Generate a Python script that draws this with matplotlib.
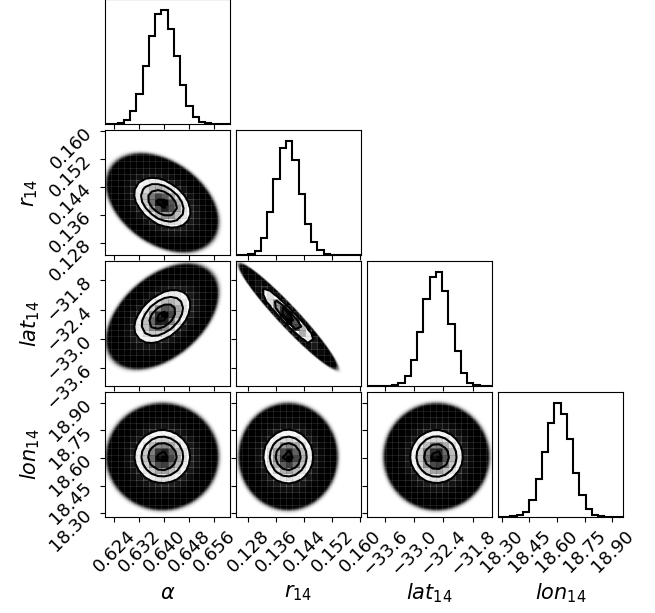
import numpy as np
import matplotlib
matplotlib.use("Agg")
import matplotlib.pyplot as plt
from matplotlib.colors import LinearSegmentedColormap

# ---------------- data ----------------
labels = [r"$\alpha$", r"$r_{14}$", r"$lat_{14}$", r"$lon_{14}$"]
ranges = [(0.6210, 0.6610), (0.1245, 0.1602), (-33.965, -31.405), (18.280, 18.958)]

alpha_counts = [0, 1, 3, 11, 38, 90, 173, 261, 326, 338, 284, 203, 116, 53, 20, 6, 2, 1, 0, 0]
r_counts = [0, 0.5, 3, 12, 50, 127, 227, 317, 338, 283, 182, 92, 40, 15, 3, 0.5, 0, 0, 0, 0]
lat_counts = [0, 0, 0.5, 1, 2, 8, 31, 78, 160, 258, 323, 338, 283, 183, 103, 38, 10, 4, 0.5, 0]
lon_counts = [0, 0.5, 2, 5, 15, 52, 113, 192, 280, 338, 307, 232, 130, 65, 25, 7, 2, 0.5, 0, 0]
hist_counts = [alpha_counts, r_counts, lat_counts, lon_counts]

alpha_ticks = [0.624, 0.632, 0.640, 0.648, 0.656]
r_ticks = [0.128, 0.136, 0.144, 0.152, 0.160]
lat_ticks = [-33.6, -33.0, -32.4, -31.8]
lon_ticks = [18.30, 18.45, 18.60, 18.75, 18.90]
tick_values = [alpha_ticks, r_ticks, lat_ticks, lon_ticks]

alpha_ticklabels = ["0.624", "0.632", "0.640", "0.648", "0.656"]
r_ticklabels = ["0.128", "0.136", "0.144", "0.152", "0.160"]
lat_ticklabels = ["\u221233.6", "\u221233.0", "\u221232.4", "\u221231.8"]
lon_ticklabels = ["18.30", "18.45", "18.60", "18.75", "18.90"]
tick_labels = [alpha_ticklabels, r_ticklabels, lat_ticklabels, lon_ticklabels]

corr = {(1, 0): -0.38, (2, 0): 0.45, (2, 1): -0.96,
        (3, 0): 0.0, (3, 1): 0.0, (3, 2): 0.0}

# corner's default 2D levels (sigma units)
sigma_levels = [0.5, 1.0, 1.5, 2.0]

# ---------------- derived statistics ----------------
nb = 20
edges = [np.linspace(lo, hi, nb + 1) for lo, hi in ranges]
means, sds = [], []
for k in range(4):
    c = np.asarray(hist_counts[k], float)
    ctr = 0.5 * (edges[k][1:] + edges[k][:-1])
    m = np.sum(c * ctr) / c.sum()
    s = np.sqrt(np.sum(c * (ctr - m) ** 2) / c.sum())
    means.append(m)
    sds.append(s)


def maha2(X, Y, jx, iy):
    rho = corr[(iy, jx)]
    zx = (X - means[jx]) / sds[jx]
    zy = (Y - means[iy]) / sds[iy]
    return (zx ** 2 - 2 * rho * zx * zy + zy ** 2) / (1 - rho ** 2)


def binned_density(jx, iy, sub=8):
    """cell-averaged density on the 20x20 grid (rows = y bins)."""
    ex, ey = edges[jx], edges[iy]
    wx, wy = ex[1] - ex[0], ey[1] - ey[0]
    fx = ex[0] + (np.arange(nb * sub) + 0.5) * wx / sub
    fy = ey[0] + (np.arange(nb * sub) + 0.5) * wy / sub
    FX, FY = np.meshgrid(fx, fy)
    dens = np.exp(-0.5 * maha2(FX, FY, jx, iy))
    return dens.reshape(nb, sub, nb, sub).mean(axis=(1, 3))


def corner_contour_grid(Hm, ex, ey, mass_levels):
    Hflat = Hm.flatten()
    inds = np.argsort(Hflat)[::-1]
    Hflat = Hflat[inds]
    sm = np.cumsum(Hflat)
    sm /= sm[-1]
    V = np.empty(len(mass_levels))
    for q, v0 in enumerate(mass_levels):
        try:
            V[q] = Hflat[sm <= v0][-1]
        except IndexError:
            V[q] = Hflat[0]
    V.sort()
    X1 = 0.5 * (ex[1:] + ex[:-1])
    Y1 = 0.5 * (ey[1:] + ey[:-1])
    H2 = Hm.min() + np.zeros((Hm.shape[0] + 4, Hm.shape[1] + 4))
    H2[2:-2, 2:-2] = Hm
    H2[2:-2, 1] = Hm[:, 0]
    H2[2:-2, -2] = Hm[:, -1]
    H2[1, 2:-2] = Hm[0]
    H2[-2, 2:-2] = Hm[-1]
    H2[1, 1] = Hm[0, 0]
    H2[1, -2] = Hm[0, -1]
    H2[-2, 1] = Hm[-1, 0]
    H2[-2, -2] = Hm[-1, -1]
    X2 = np.concatenate([X1[0] + np.array([-2, -1]) * np.diff(X1[:2]), X1,
                         X1[-1] + np.array([1, 2]) * np.diff(X1[-2:])])
    Y2 = np.concatenate([Y1[0] + np.array([-2, -1]) * np.diff(Y1[:2]), Y1,
                         Y1[-1] + np.array([1, 2]) * np.diff(Y1[-2:])])
    return X2, Y2, H2, V


density_cmap = LinearSegmentedColormap.from_list("density_cmap", [(0, 0, 0, 1), (1, 1, 1, 0)])
mass_levels = [1 - np.exp(-0.5 * s ** 2) for s in sigma_levels]

W, H = 655, 613
fig = plt.figure(figsize=(W / 100, H / 100), dpi=100)

x0, y0, step, size = 105, -1, 131, 125
fs_tick = 13
fs_label = 15

core = 3.85      # sigma radius of the solid cloud of samples
edge_w = 0.25    # softness of the cloud edge

for i in range(4):
    for j in range(i + 1):
        left = (x0 + step * j) / W
        bottom = 1 - (y0 + step * i + size) / H
        ax = fig.add_axes([left, bottom, size / W, size / H])
        ax.tick_params(labelsize=fs_tick, direction="out")
        if i == j:
            ax.stairs(hist_counts[i], edges[i], color="k", lw=1.5)
            ax.set_xlim(ranges[i])
            ax.set_ylim(0, 1.1 * max(hist_counts[i]))
            ax.set_yticks([])
        else:
            xlo, xhi = ranges[j]
            ylo, yhi = ranges[i]
            xg = np.linspace(xlo, xhi, 500)
            yg = np.linspace(ylo, yhi, 500)
            X, Y = np.meshgrid(xg, yg)
            d = np.sqrt(maha2(X, Y, j, i))
            # dense cloud of samples (soft-edged)
            alpha = np.where(d <= core, 1.0, np.exp(-((d - core) / edge_w) ** 2))
            rgba = np.zeros(d.shape + (4,))
            rgba[..., 3] = alpha
            ax.imshow(rgba, origin="lower", extent=(xlo, xhi, ylo, yhi),
                      aspect="auto", interpolation="bilinear", zorder=0)
            ex, ey = edges[j], edges[i]
            Hm = binned_density(j, i)
            X2, Y2, H2, V = corner_contour_grid(Hm, ex, ey, mass_levels)
            # white base fill inside the outermost contour
            ax.contourf(X2, Y2, H2, [V.min(), Hm.max()], colors=["white"],
                        antialiased=False, zorder=1)
            # density map
            ax.pcolormesh(ex, ey, Hm.max() - Hm, cmap=density_cmap, vmin=0,
                          vmax=Hm.max() - Hm.min(), zorder=2,
                          edgecolors=(1, 1, 1, 0.05), linewidth=0.5)
            ax.contour(X2, Y2, H2, V, colors="k", linewidths=1.5, zorder=3)
            ax.set_xlim(ranges[j])
            ax.set_ylim(ranges[i])
            ax.set_yticks(tick_values[i])
            if j == 0:
                ax.set_yticklabels(tick_labels[i], rotation=45)
            else:
                ax.set_yticklabels([])
        ax.set_xticks(tick_values[j])
        if i == 3:
            ax.set_xticklabels(tick_labels[j], rotation=45)
        else:
            ax.set_xticklabels([])

# axis labels
for k in range(4):
    cxp = x0 + step * k + size / 2
    fig.text(cxp / W, 1 - 593 / H, labels[k], ha="center", va="center", fontsize=fs_label)
for k in range(1, 4):
    cyp = y0 + step * k + size / 2
    fig.text(30 / W, 1 - cyp / H, labels[k], ha="center", va="center",
             rotation=90, fontsize=fs_label)

fig.savefig("out.png", dpi=100)
